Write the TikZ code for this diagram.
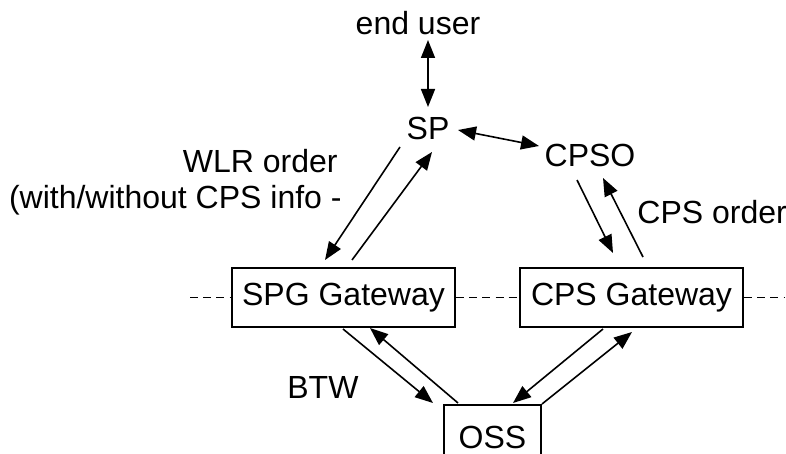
\documentclass[tikz,border=0pt]{standalone}
\usepackage{fontspec}
\setmainfont{Liberation Sans}
\usetikzlibrary{arrows.meta}
\begin{document}
\begin{tikzpicture}[x=0.5pt,y=-0.5pt,
  every node/.style={font=\fontsize{16}{19}\selectfont, inner sep=0pt},
  gwbox/.style={draw, line width=0.9pt, minimum width=111.5pt, minimum height=29.5pt},
  tip/.tip={Triangle[length=9pt,width=7pt]},
  conn/.style={line width=0.8pt, -tip},
  both/.style={line width=0.8pt, tip-tip},
  link/.style={line width=0.8pt, dash pattern=on 4pt off 2.6pt}]
\useasboundingbox (0,0) rectangle (786,454);
\clip (0,0) rectangle (786,454);

% text nodes
\node[anchor=base] (user) at (418,35) {end user};
\node[anchor=base] (sp) at (428,140) {SP};
\node[anchor=base] (cpso) at (590,167) {CPSO};
\node[anchor=base east] (wlr1) at (338,173) {WLR order};
\node[anchor=base east] (wlr2) at (342,208) {(with/without CPS info -};
\node[anchor=base west] (cpsorder) at (637,223) {CPS order};
\node[anchor=base west] (btw) at (287,398) {BTW};

% gateway boxes
\node[gwbox] (spg) at (343.5,297.5) {SPG Gateway};
\node[gwbox] (cps) at (631.5,297.5) {CPS Gateway};
\node[draw, line width=0.9pt, minimum width=48.5pt, minimum height=32pt] (oss) at (492.5,437) {OSS};

% connector end points
\coordinate (u1) at (428,40);
\coordinate (u2) at (428,107);
\coordinate (s1) at (458,130);
\coordinate (s2) at (539,146);
\coordinate (a1) at (400,147);
\coordinate (a2) at (325,260);
\coordinate (b1) at (352,260);
\coordinate (b2) at (432,152);
\coordinate (c1) at (577,180);
\coordinate (c2) at (613,253);
\coordinate (d1) at (643,257);
\coordinate (d2) at (603,178);
\coordinate (e1) at (343,329);
\coordinate (e2) at (433,403);
\coordinate (f1) at (458,403);
\coordinate (f2) at (370,328);
\coordinate (g1) at (603,329);
\coordinate (g2) at (513,403);
\coordinate (h1) at (542,404);
\coordinate (h2) at (632,332);
\coordinate (lft) at (190,297.5);
\coordinate (rgt) at (784,297.5);

% connectors
\draw[both] (u1) -- (u2);
\draw[both] (s1) -- (s2);
\draw[conn] (a1) -- (a2);
\draw[conn] (b1) -- (b2);
\draw[conn] (c1) -- (c2);
\draw[conn] (d1) -- (d2);
\draw[conn] (e1) -- (e2);
\draw[conn] (f1) -- (f2);
\draw[conn] (g1) -- (g2);
\draw[conn] (h1) -- (h2);

% dashed links through the gateways
\draw[link] (lft) -- (spg.west);
\draw[link] (spg.east) -- (cps.west);
\draw[link] (cps.east) -- (rgt);
\end{tikzpicture}
\end{document}
